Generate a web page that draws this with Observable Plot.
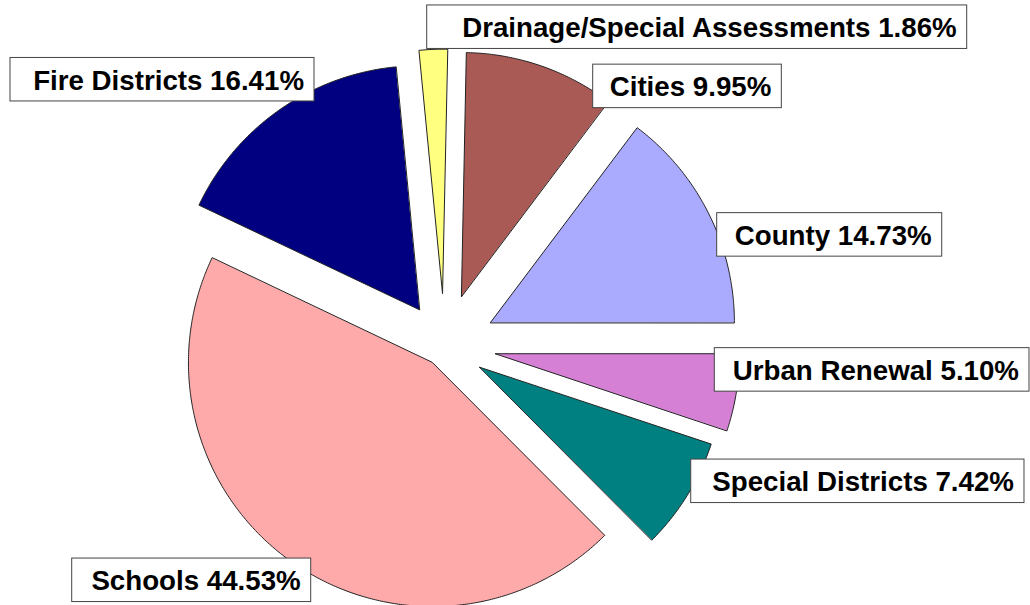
<!DOCTYPE html>
<html>
<head>
<meta charset="utf-8">
<script src="https://cdn.jsdelivr.net/npm/d3@7"></script>
<script src="https://cdn.jsdelivr.net/npm/@observablehq/plot@0.6"></script>
<style>
  html, body { margin: 0; padding: 0; background: #fff; }
  #chart { width: 1030px; height: 605px; overflow: hidden; }
</style>
</head>
<body>
<div id="chart"></div>
<script>
// ---- data ----
const names = ["Urban Renewal", "Special Districts", "Schools", "Fire Districts",
               "Drainage/Special Assessments", "Cities", "County"];
const shares = [5.10, 7.42, 44.53, 16.41, 1.86, 9.95, 14.73];

// ---- styles / layout (not data) ----
const colors = ["#d580d5", "#008080", "#ffaaaa", "#000080", "#ffff80", "#aa5a55", "#aaaaff"];
const explodePx = [51.6, 41.3, 20.9, 43.7, 52.3, 51.8, 51.3];
const startAngle = 90; // degrees clockwise from 12 o'clock
// label box layout, in radius units relative to pie centre: [left, right, centreY]
const labelLayout = [
  [1.1078, 2.3975, 0.1000],
  [1.0111, 2.3770, 0.5566],
  [-1.5258, -0.5463, 0.9623],
  [-1.7787, -0.5328, -1.0893],
  [-0.0709, 2.1422, -1.3045],
  [0.6094, 1.3824, -1.0619],
  [1.1176, 2.0398, -0.4533]
];

const W = 1030, H = 605, R = 244, CX = 444, CY = 345;
const FONT = "'Liberation Sans', Arial, Helvetica, sans-serif";
const FS = 27.7;

// slices
let acc = startAngle;
const slices = names.map((name, i) => {
  const a0 = acc, a1 = acc + shares[i] * 3.6;
  acc = a1;
  return {name, i, a0, a1, mid: (a0 + a1) / 2};
});
const pts = [];
for (const s of slices) {
  const m = s.mid * Math.PI / 180;
  const e = explodePx[s.i] / R;
  const ox = e * Math.sin(m), oy = -e * Math.cos(m);
  pts.push({name: s.name, x: ox, y: oy});
  const n = Math.max(2, Math.ceil((s.a1 - s.a0) / 0.5));
  for (let k = 0; k <= n; k++) {
    const a = (s.a0 + (s.a1 - s.a0) * k / n) * Math.PI / 180;
    pts.push({name: s.name, x: ox + Math.sin(a), y: oy - Math.cos(a)});
  }
}

// labels
const padR = 10.5, boxH = 43.5;
const labels = slices.map(s => {
  const text = `${s.name} ${shares[s.i].toFixed(2)}%`;
  const [x1, x2, cy] = labelLayout[s.i];
  return {text, x1, x2, y1: cy - boxH / 2 / R, y2: cy + boxH / 2 / R,
          tx: x2 - padR / R, ty: cy};
});

const chart = Plot.plot({
  width: W,
  height: H,
  margin: 0,
  x: {domain: [-CX / R, (W - CX) / R], range: [0, W], axis: null},
  y: {domain: [-CY / R, (H - CY) / R], range: [0, H], axis: null},
  color: {domain: names, range: colors},
  style: {background: "#fff", overflow: "visible"},
  marks: [
    Plot.line(pts, {x: "x", y: "y", z: "name", fill: "name", stroke: "#222",
                    strokeWidth: 1, curve: "linear-closed"}),
    Plot.rect(labels, {x1: "x1", x2: "x2", y1: "y1", y2: "y2", fill: "white",
                       stroke: "#444", strokeWidth: 1}),
    Plot.text(labels, {x: "tx", y: "ty", text: "text", textAnchor: "end",
                       fontSize: FS, fontWeight: "bold", fontFamily: FONT,
                       fill: "black", dy: 1})
  ]
});
document.getElementById("chart").appendChild(chart);
</script>
</body>
</html>
